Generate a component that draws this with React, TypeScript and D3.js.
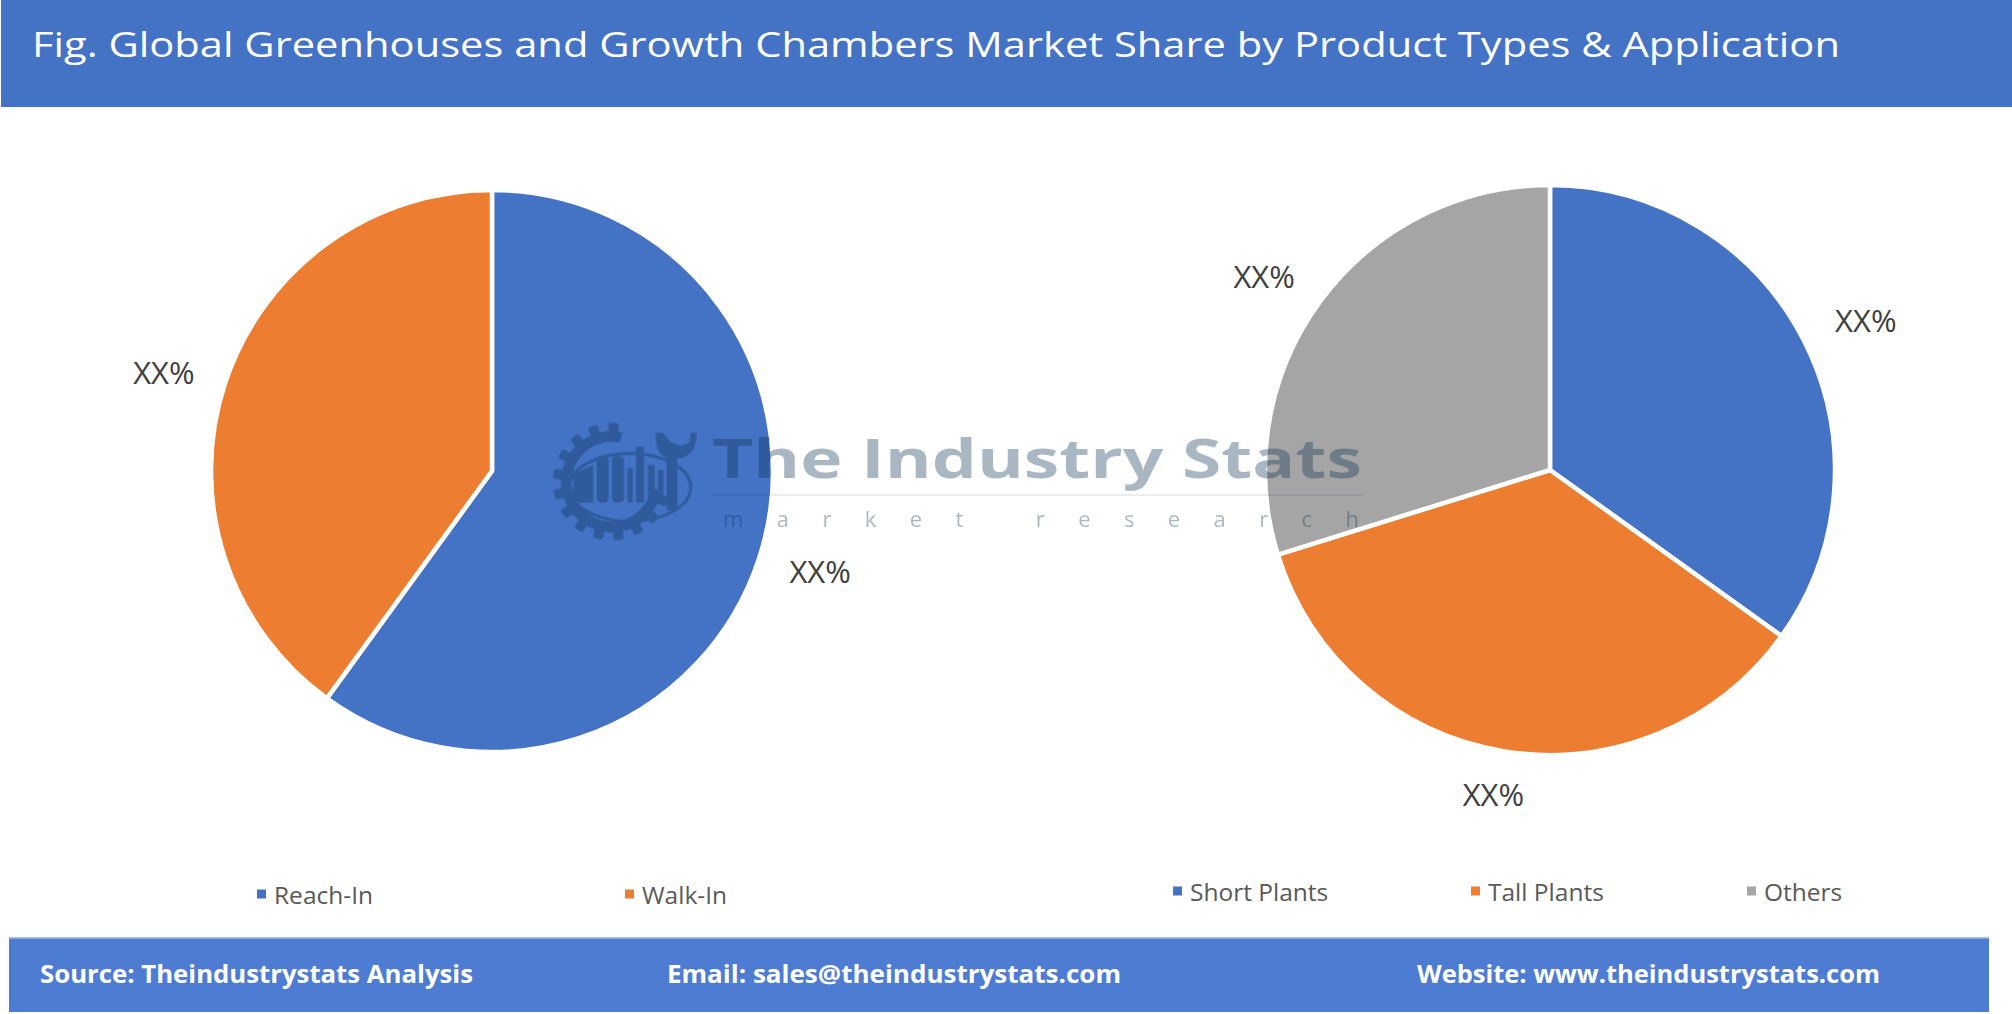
import * as d3 from "d3";

// chart data
const productTypes = ["Reach-In", "Walk-In"];
const productShares = [60, 40];
const productLabels = ["XX%", "XX%"];

const applications = ["Short Plants", "Tall Plants", "Others"];
const applicationShares = [34.9, 35.3, 29.8];
const applicationLabels = ["XX%", "XX%", "XX%"];

const sliceColors = ["#4472C4", "#ED7D31", "#A5A5A5"];

const titleText =
  "Fig. Global Greenhouses and Growth Chambers Market Share by Product Types & Application";
const footerItems = [
  "Source: Theindustrystats Analysis",
  "Email: sales@theindustrystats.com",
  "Website: www.theindustrystats.com",
];

// layout
const W = 2012;
const H = 1014;
const footerX = [40, 667, 1417];
const footerW = [433, 454, 463];

type PieProps = {
  cx: number;
  cy: number;
  r: number;
  labelRx: number;
  labelRy: number;
  names: string[];
  values: number[];
  labels: string[];
  legendX: number[];
  legendY: number;
};

const PieBlock = ({ cx, cy, r, labelRx, labelRy, names, values, labels, legendX, legendY }: PieProps) => {
  const arcs = d3
    .pie<number>()
    .sort(null)
    .value((d) => d)(values);
  const arc = d3.arc<d3.PieArcDatum<number>>().innerRadius(0).outerRadius(r);
  // unit arc, centroid scaled separately in x and y
  const unitArc = d3.arc<d3.PieArcDatum<number>>().innerRadius(1).outerRadius(1);
  const color = d3.scaleOrdinal<string, string>().domain(names).range(sliceColors);

  return (
    <g>
      <g transform={`translate(${cx},${cy})`}>
        {arcs.map((a, i) => (
          <path
            key={names[i]}
            d={arc(a) || ""}
            fill={color(names[i])}
            stroke="#fff"
            strokeWidth={4.5}
            strokeLinejoin="round"
          />
        ))}
        {arcs.map((a, i) => {
          const [ux, uy] = unitArc.centroid(a);
          return (
            <text
              key={"l" + i}
              x={ux * labelRx}
              y={uy * labelRy}
              textAnchor="middle"
              dominantBaseline="central"
              fontFamily="'Open Sans', sans-serif"
              fontSize={31}
              fill="#404040"
            >
              {labels[i]}
            </text>
          );
        })}
      </g>
      {names.map((n, i) => (
        <g key={"lg" + n} transform={`translate(${legendX[i]},${legendY})`}>
          <rect x={0} y={-4.5} width={9} height={9} fill={color(n)} />
          <text
            x={17}
            y={0}
            dominantBaseline="central"
            fontFamily="'Open Sans', sans-serif"
            fontSize={24.5}
            fill="#595959"
          >
            {n}
          </text>
        </g>
      ))}
    </g>
  );
};

const Watermark = () => {
  const deg = Math.PI / 180;
  const gearBody = d3
    .arc()
    .innerRadius(120)
    .outerRadius(152)
    .startAngle(100 * deg)
    .endAngle(372 * deg)({} as any);
  const teeth = d3.range(110, 372, 21);
  return (
    <g opacity={0.35} fill="#0a3355">
      <g transform="translate(530,410) scale(0.3333)">
        <g transform="translate(245,215)">
          <path d={gearBody || ""} />
          {teeth.map((t) => (
            <rect
              key={t}
              x={-15}
              y={-176}
              width={30}
              height={34}
              rx={6}
              transform={`rotate(${t})`}
            />
          ))}
        </g>
        <ellipse cx={300} cy={232} rx={182} ry={102} fill="none" stroke="#0a3355" strokeWidth={9} />
        <polygon points="130,192 190,165 190,278 130,278" />
        <rect x={200} y={138} width={36} height={140} rx={14} />
        <rect x={246} y={138} width={36} height={140} rx={14} />
        <rect x={292} y={175} width={16} height={103} />
        <rect x={318} y={110} width={24} height={168} />
        <rect x={354} y={165} width={20} height={113} />
        <rect x={384} y={180} width={16} height={98} />
        <rect x={410} y={120} width={32} height={180} />
        <path d="M378,68 Q372,142 424,145 L442,145 Q500,140 500,68 L482,68 L478,98 L452,108 L424,98 L398,68 Z" />
      </g>
      <text
        x={712}
        y={478}
        fontFamily="'Open Sans', sans-serif"
        fontWeight={700}
        fontSize={53}
        textLength={650}
        lengthAdjust="spacingAndGlyphs"
      >
        The Industry Stats
      </text>
      <rect x={712} y={494} width={650} height={2} opacity={0.25} />
      <text
        x={723}
        y={527}
        fontFamily="'Open Sans', sans-serif"
        fontSize={22}
        textLength={636}
        lengthAdjust="spacing"
      >
        market research
      </text>
    </g>
  );
};

export default function App() {
  return (
    <svg
      width={W}
      height={H}
      style={{ position: "absolute", left: 0, top: 0, display: "block" }}
    >
      <rect x={0} y={0} width={W} height={H} fill="#fff" />
      <rect x={1} y={0} width={W - 1} height={107} fill="#4472C4" />
      <text
        x={32}
        y={57}
        fill="#fff"
        fontFamily="'Open Sans', sans-serif"
        fontWeight={500}
        fontSize={35}
        textLength={1808}
        lengthAdjust="spacingAndGlyphs"
      >
        {titleText}
      </text>

      <PieBlock
        cx={492}
        cy={471}
        r={281}
        labelRx={345}
        labelRy={322}
        names={productTypes}
        values={productShares}
        labels={productLabels}
        legendX={[257, 625]}
        legendY={894}
      />
      <PieBlock
        cx={1550}
        cy={470}
        r={285}
        labelRx={355}
        labelRy={328}
        names={applications}
        values={applicationShares}
        labels={applicationLabels}
        legendX={[1173, 1471, 1747]}
        legendY={891}
      />

      <Watermark />

      <rect x={9} y={937} width={1980} height={1.5} fill="#9bb5e8" />
      <rect x={9} y={938.5} width={1980} height={73.5} fill="#4D7CD2" />
      {footerItems.map((t, i) => (
        <text
          key={t}
          x={footerX[i]}
          y={983}
          fill="#fff"
          fontFamily="'Open Sans', sans-serif"
          fontWeight={700}
          fontSize={25}
          textLength={footerW[i]}
          lengthAdjust="spacingAndGlyphs"
        >
          {t}
        </text>
      ))}
    </svg>
  );
}
